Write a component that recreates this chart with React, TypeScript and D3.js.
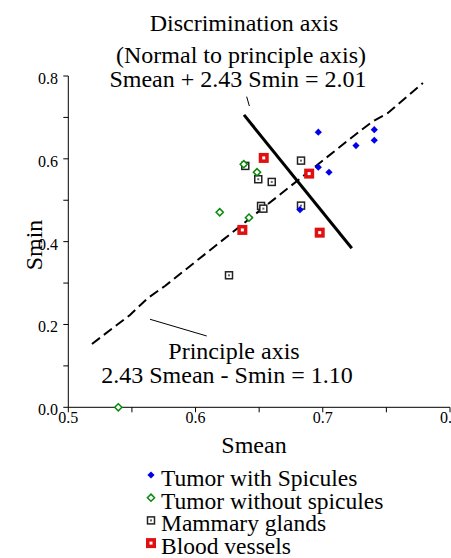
import React from 'react';
import * as d3 from 'd3';

// [Smean, Smin]
const spicules: [number, number][] = [
  [0.6965, 0.6643], [0.7405, 0.6705], [0.7405, 0.6449], [0.7261, 0.6319],
  [0.6965, 0.5797], [0.7049, 0.5676], [0.6821, 0.4773],
];
const noSpicules: [number, number][] = [
  [0.6379, 0.587], [0.6483, 0.5676], [0.619, 0.471], [0.642, 0.458], [0.5393, 0.0],
];
const mammary: [number, number][] = [
  [0.6829, 0.5957], [0.6829, 0.487], [0.6391, 0.5829], [0.6493, 0.5507],
  [0.6599, 0.5442], [0.6515, 0.4862], [0.6533, 0.4797], [0.6263, 0.3188],
];
const vessels: [number, number][] = [
  [0.6536, 0.6022], [0.6893, 0.5643], [0.6976, 0.4217], [0.6368, 0.4283],
];
const principleAxis: [number, number][] = [
  [0.5186, 0.1529], [0.5485, 0.223], [0.5626, 0.264], [0.576, 0.293],
  [0.7253, 0.6577], [0.7387, 0.6891], [0.7512, 0.7109], [0.7787, 0.7833],
];
const discrimAxis: [number, number][] = [[0.6381, 0.706], [0.7228, 0.3841]];
const discrimPointer: [number, number][] = [[0.6402, 0.7502], [0.6423, 0.7275]];
const principlePointer: [number, number][] = [[0.5642, 0.2126], [0.6088, 0.1722]];

const xTicks = [0.5, 0.6, 0.7, 0.8];
const xMinor = [0.55, 0.65, 0.75];
const yTicks = [0.0, 0.2, 0.4, 0.6, 0.8];
const yMinor = [0.1, 0.3, 0.5, 0.7];
const legendNames = ['Tumor with Spicules', 'Tumor without spicules', 'Mammary glands', 'Blood vessels'];

const font = '"Liberation Serif", "Times New Roman", serif';

const x = d3.scaleLinear().domain([0.5, 0.8]).range([68.3, 450]);
const y = d3.scaleLinear().domain([0, 0.8]).range([407.3, 76]);
const line = d3.line<[number, number]>().x((d) => x(d[0])).y((d) => y(d[1]));

const BlueDiamond = ({ cx, cy, r = 3.6 }: { cx: number; cy: number; r?: number }) => (
  <path d={`M${cx},${cy - r}L${cx + r},${cy}L${cx},${cy + r}L${cx - r},${cy}Z`} fill="#0000ee" />
);
const GreenDiamond = ({ cx, cy, r = 3.6 }: { cx: number; cy: number; r?: number }) => (
  <path d={`M${cx},${cy - r}L${cx + r},${cy}L${cx},${cy + r}L${cx - r},${cy}Z`} fill="white" stroke="#0a8a0a" strokeWidth={1.5} />
);
const BlackSquare = ({ cx, cy }: { cx: number; cy: number }) => (
  <g>
    <rect x={cx - 3.5} y={cy - 3.5} width={7} height={7} fill="white" stroke="#222" strokeWidth={1.5} />
    <rect x={cx - 1} y={cy - 1} width={2} height={2} fill="#666" />
  </g>
);
const RedSquare = ({ cx, cy }: { cx: number; cy: number }) => (
  <g>
    <rect x={cx - 5} y={cy - 5} width={10} height={10} fill="#e01010" />
    <rect x={cx - 1.5} y={cy - 1.5} width={3} height={3} fill="white" />
  </g>
);

const markers = [BlueDiamond, GreenDiamond, BlackSquare, RedSquare];

export default function App() {
  return (
    <svg width={451} height={558} style={{ position: 'absolute', left: 0, top: 0, background: 'white' }} fontFamily={font}>
      {/* axes */}
      <line x1={x(0.5)} x2={x(0.8)} y1={y(0)} y2={y(0)} stroke="black" strokeWidth={1} />
      <line x1={x(0.5)} x2={x(0.5)} y1={y(0)} y2={y(0.8)} stroke="black" strokeWidth={1} />
      {xTicks.concat(xMinor).map((t) => (
        <line key={'xt' + t} x1={x(t)} x2={x(t)} y1={y(0)} y2={y(0) + 5} stroke="black" />
      ))}
      {yTicks.concat(yMinor).map((t) => (
        <line key={'yt' + t} x1={x(0.5) - 5} x2={x(0.5)} y1={y(t)} y2={y(t)} stroke="black" />
      ))}
      {xTicks.map((t) => (
        <text key={'xl' + t} x={x(t)} y={y(0) + 16} fontSize={16} textAnchor="middle">
          {d3.format('.1f')(t)}
        </text>
      ))}
      {yTicks.map((t) => (
        <text key={'yl' + t} x={58} y={y(t) + 8} fontSize={16} textAnchor="end">
          {d3.format('.1f')(t)}
        </text>
      ))}
      <text x={254} y={453} fontSize={24} textAnchor="middle">Smean</text>
      <text transform="translate(42,245) rotate(-90)" fontSize={24} textAnchor="middle">Smin</text>

      {/* axes lines */}
      <path d={line(principleAxis) ?? ''} fill="none" stroke="black" strokeWidth={2} strokeDasharray="10,5" />
      <path d={line(discrimAxis) ?? ''} fill="none" stroke="black" strokeWidth={3} />
      <path d={line(discrimPointer) ?? ''} fill="none" stroke="black" strokeWidth={1} />
      <path d={line(principlePointer) ?? ''} fill="none" stroke="black" strokeWidth={1} />

      {/* annotations */}
      <g fontSize={24} textAnchor="middle">
        <text x={244} y={31}>Discrimination axis</text>
        <text x={241} y={63}>(Normal to principle axis)</text>
        <text x={238} y={87}>Smean + 2.43 Smin = 2.01</text>
        <text x={234} y={359}>Principle axis</text>
        <text x={227} y={383}>2.43 Smean - Smin = 1.10</text>
      </g>

      {/* points */}
      {mammary.map((d, i) => <BlackSquare key={'m' + i} cx={x(d[0])} cy={y(d[1])} />)}
      {noSpicules.map((d, i) => <GreenDiamond key={'g' + i} cx={x(d[0])} cy={y(d[1])} />)}
      {vessels.map((d, i) => <RedSquare key={'r' + i} cx={x(d[0])} cy={y(d[1])} />)}
      {spicules.map((d, i) => <BlueDiamond key={'b' + i} cx={x(d[0])} cy={y(d[1])} />)}

      {/* legend */}
      {legendNames.map((name, i) => {
        const M = markers[i];
        const base = 486 + i * 22.7;
        return (
          <g key={name}>
            <M cx={151} cy={base - 11} />
            <text x={161} y={base} fontSize={23.5}>{name}</text>
          </g>
        );
      })}
    </svg>
  );
}
